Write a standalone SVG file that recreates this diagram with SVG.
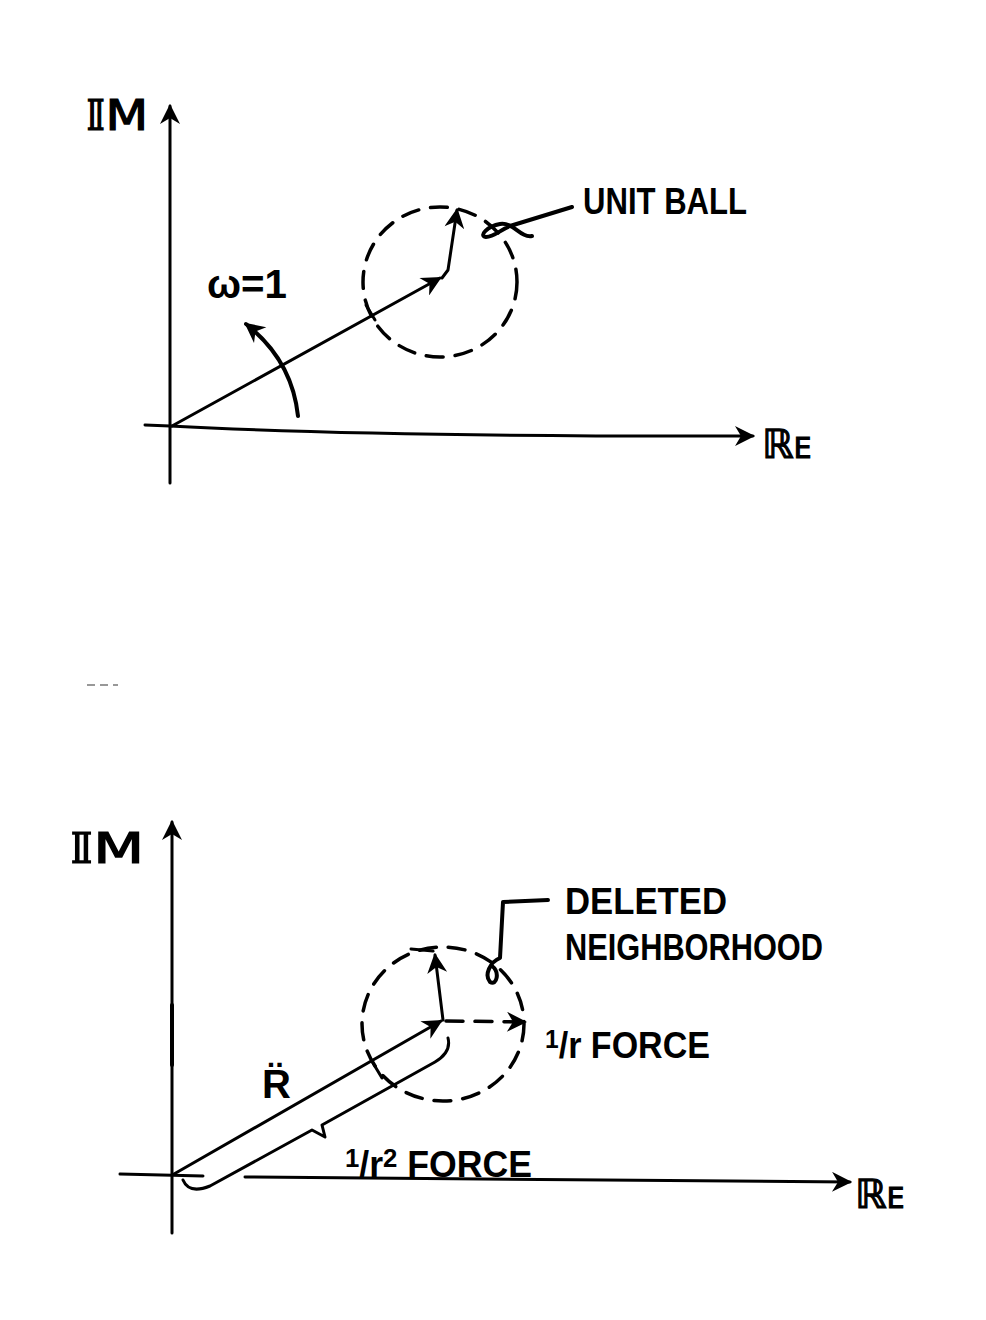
<svg xmlns="http://www.w3.org/2000/svg" width="986" height="1320" viewBox="0 0 986 1320">
<style>
.ln{fill:none;stroke:#000;stroke-width:3;stroke-linecap:round;stroke-linejoin:round}
.thk{stroke-width:4}
.dash{stroke-dasharray:17 12;stroke-width:3.5}
.t{font-family:"Liberation Sans","DejaVu Sans",sans-serif;font-weight:bold;fill:#000}
.m{font-family:"DejaVu Sans","Liberation Sans",sans-serif;fill:#000;stroke:#000;stroke-width:1.2}
</style>
<defs>
<marker id="ah" viewBox="0 0 10 10" refX="9" refY="5" markerWidth="28" markerHeight="20" markerUnits="userSpaceOnUse" orient="auto"><path d="M0,0 L10,5 L0,10 L3,5 z" fill="#000"/></marker>
</defs>
<rect width="986" height="1320" fill="#fff"/>

<g id="top-plot">
  <g id="top-axes">
    <path class="ln" d="M170,483 L170,106" marker-end="url(#ah)"/>
    <path class="ln" d="M145,425 L170,426 Q370,437 753,436" marker-end="url(#ah)"/>
  </g>
  <g id="top-im-label"><text class="m" x="86" y="130" font-size="42" textLength="62" lengthAdjust="spacingAndGlyphs">𝕀M</text></g>
  <g id="top-re-label"><text class="m" x="762" y="458"><tspan font-size="40">ℝ</tspan><tspan font-size="28">E</tspan></text></g>
  <g id="top-ball">
    <ellipse class="ln dash" cx="440" cy="282" rx="77" ry="75"/>
  </g>
  <g id="top-connectors">
    <path class="ln" d="M172,426 L440,278" marker-end="url(#ah)"/>
    <path class="ln" d="M366,305 L375,320"/>
    <path class="ln" d="M442,278 L448,270 L457,210" marker-end="url(#ah)"/>
    <path class="ln thk" d="M298,416 Q292,360 246,324" marker-end="url(#ah)"/>
    <path class="ln thk" d="M532,236 C520,238 514,222 500,224 C488,226 478,236 486,237 C494,237 500,230 510,226 L572,207"/>
  </g>
  <g id="omega-label"><text class="t" x="207" y="298" font-size="40" textLength="80" lengthAdjust="spacingAndGlyphs">ω=1</text></g>
  <g id="unit-ball-label"><text class="t" x="583" y="214" font-size="36" textLength="164" lengthAdjust="spacingAndGlyphs">UNIT BALL</text></g>
</g>

<g id="artifact"><path d="M87,685 L95,685 M100,685 L108,685 M113,685 L118,685" stroke="#777" stroke-width="1.5" fill="none"/></g>

<g id="bottom-plot">
  <g id="bottom-axes">
    <path class="ln" d="M172,1233 L172,822" marker-end="url(#ah)"/>
    <path class="ln thk" d="M172,1005 L172,1065"/>
    <path class="ln" d="M120,1174 L203,1176"/>
    <path class="ln" d="M245,1177 L850,1182" marker-end="url(#ah)"/>
  </g>
  <g id="bottom-im-label"><text class="m" x="70" y="863" font-size="42" textLength="74" lengthAdjust="spacingAndGlyphs">𝕀M</text></g>
  <g id="bottom-re-label"><text class="m" x="855" y="1208"><tspan font-size="40">ℝ</tspan><tspan font-size="28">E</tspan></text></g>
  <g id="neighborhood">
    <ellipse class="ln dash" cx="443" cy="1024" rx="81" ry="77"/>
  </g>
  <g id="bottom-connectors">
    <path class="ln" d="M174,1174 L441,1021" marker-end="url(#ah)"/>
    <path class="ln" d="M373,1063 L382,1078"/>
    <path class="ln" d="M443,1020 L435,955" marker-end="url(#ah)"/>
    <path class="ln" d="M411,949 L433,951"/>
    <path class="ln dash" d="M446,1021 L525,1022" marker-end="url(#ah)"/>
    <path class="ln" d="M183,1180 C188,1192 200,1190 210,1186 L312,1130 L325,1137 L322,1125 L435,1062 C447,1055 450,1046 448,1038"/>
    <path class="ln thk" d="M548,900 L503,902 L500,958 C490,962 484,975 490,982 C497,986 500,972 492,966"/>
  </g>
  <g id="r-label"><text class="t" x="262" y="1098" font-size="40">R̈</text></g>
  <g id="deleted-label">
    <text class="t" x="565" y="914" font-size="36" textLength="162" lengthAdjust="spacingAndGlyphs">DELETED</text>
    <text class="t" x="565" y="960" font-size="36" textLength="258" lengthAdjust="spacingAndGlyphs">NEIGHBORHOOD</text>
  </g>
  <g id="inv-r-label"><text class="t" x="545" y="1058" font-size="36" textLength="165" lengthAdjust="spacingAndGlyphs"><tspan font-size="26" dy="-10">1</tspan><tspan dy="10">/r FORCE</tspan></text></g>
  <g id="inv-r2-label"><text class="t" x="345" y="1177" font-size="36" textLength="187" lengthAdjust="spacingAndGlyphs"><tspan font-size="26" dy="-10">1</tspan><tspan dy="10">/r</tspan><tspan font-size="26" dy="-10">2</tspan><tspan dy="10"> FORCE</tspan></text></g>
</g>
</svg>
